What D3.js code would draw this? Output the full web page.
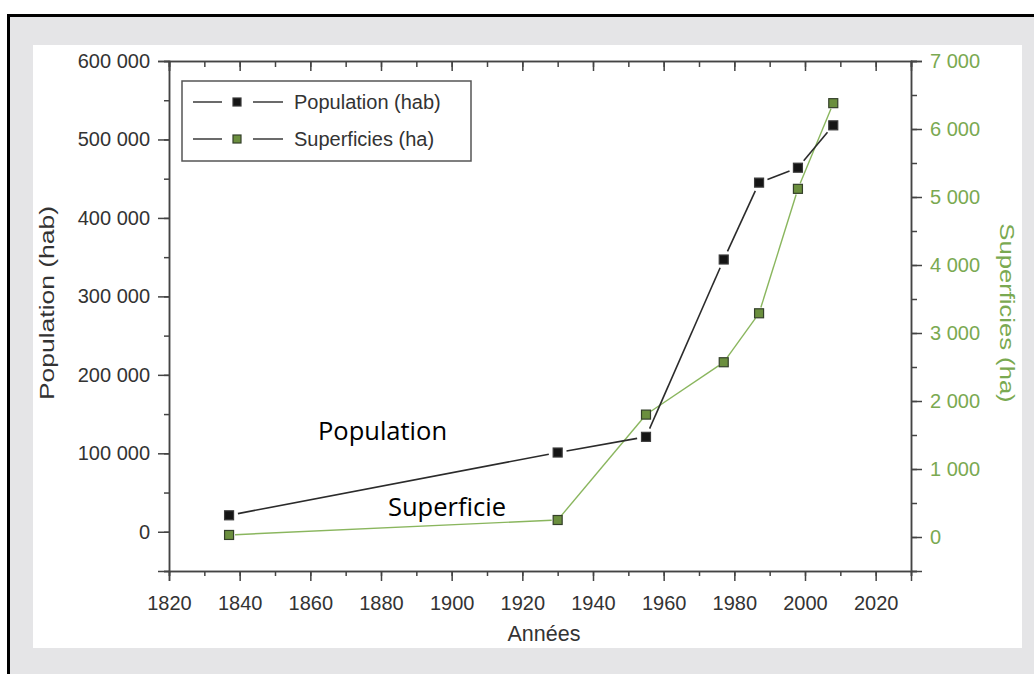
<!DOCTYPE html>
<html>
<head>
<meta charset="utf-8">
<script src="https://cdn.jsdelivr.net/npm/d3@7"></script>
<style>
  body { margin: 0; background: #fff; }
  svg { display: block; }
  svg text { font-family: "Liberation Sans", Arial, sans-serif; }
</style>
</head>
<body>
<div id="chart"></div>
<script>
// values
const years = [1837, 1930, 1955, 1977, 1987, 1998, 2008];
const population = [21000, 101000, 121000, 347000, 445000, 464000, 518000];
const superficie = [30, 250, 1800, 2570, 3290, 5120, 6380];

const xTicks = [1820, 1840, 1860, 1880, 1900, 1920, 1940, 1960, 1980, 2000, 2020];
const popTicks = [0, 100000, 200000, 300000, 400000, 500000, 600000];
const supTicks = [0, 1000, 2000, 3000, 4000, 5000, 6000, 7000];
const legendLabels = ["Population (hab)", "Superficies (ha)"];

const W = 1034, H = 674;
const plotLeft = 169, plotRight = 911, plotTop = 61, plotBottom = 571;
const axisCol = "#444", textCol = "#333", green = "#7aa951";

const fr = d3.formatLocale({ decimal: ",", thousands: " ", grouping: [3], currency: ["", " €"] });
const fmt = fr.format(",d");

const svg = d3.select("#chart").append("svg")
    .attr("width", W)
    .attr("height", H);

// frame + grey background + white panel
svg.append("rect").attr("x", 9).attr("y", 16).attr("width", W - 9).attr("height", H - 16).attr("fill", "#e5e5e7");
svg.append("rect").attr("x", 33).attr("y", 45).attr("width", 989).attr("height", 603).attr("fill", "#fff");
svg.append("line").attr("x1", 8).attr("x2", W).attr("y1", 15.5).attr("y2", 15.5).attr("stroke", "#000").attr("stroke-width", 3);
svg.append("line").attr("x1", 8.5).attr("x2", 8.5).attr("y1", 14).attr("y2", H).attr("stroke", "#000").attr("stroke-width", 3);

// scales
const x = d3.scaleLinear().domain([1820, 2030]).range([plotLeft, plotRight]);
const yL = d3.scaleLinear().domain([-50000, 600000]).range([plotBottom, plotTop]);
const yR = d3.scaleLinear().domain([-500, 7000]).range([plotBottom, plotTop]);

function styleAxis(g, labelCol) {
    g.attr("font-family", null);
    g.select(".domain").attr("stroke", axisCol).attr("stroke-width", 1.5);
    g.selectAll(".tick line").attr("stroke", axisCol).attr("stroke-width", 1.5);
    g.selectAll(".tick text")
        .attr("fill", labelCol || textCol)
        .style("font-family", "'Liberation Sans', Arial, sans-serif")
        .style("font-size", "20px");
}

const xMinor = d3.range(1820, 2031, 10);
const lMinor = d3.range(-50000, 600001, 50000);
const rMinor = d3.range(-500, 7001, 500);

// bottom axis
svg.append("g").attr("transform", `translate(0,${plotBottom})`)
    .call(d3.axisBottom(x).tickValues(xMinor).tickSize(5).tickFormat(""))
    .call(g => styleAxis(g));
svg.append("g").attr("transform", `translate(0,${plotBottom})`)
    .call(d3.axisBottom(x).tickValues(xTicks).tickSize(10).tickPadding(15).tickFormat(d3.format("d")))
    .call(g => styleAxis(g));

// top axis (ticks inward, no labels)
svg.append("g").attr("transform", `translate(0,${plotTop})`)
    .call(d3.axisBottom(x).tickValues(xMinor).tickSize(6).tickFormat(""))
    .call(g => styleAxis(g));
svg.append("g").attr("transform", `translate(0,${plotTop})`)
    .call(d3.axisBottom(x).tickValues(xTicks).tickSize(10).tickFormat(""))
    .call(g => styleAxis(g));

// left axis
svg.append("g").attr("transform", `translate(${plotLeft},0)`)
    .call(d3.axisLeft(yL).tickValues(lMinor).tickSize(5).tickFormat(""))
    .call(g => styleAxis(g));
svg.append("g").attr("transform", `translate(${plotLeft},0)`)
    .call(d3.axisLeft(yL).tickValues(popTicks).tickSize(11).tickPadding(8).tickFormat(fmt))
    .call(g => styleAxis(g));

// right axis
svg.append("g").attr("transform", `translate(${plotRight},0)`)
    .call(d3.axisRight(yR).tickValues(rMinor).tickSize(6).tickFormat(""))
    .call(g => styleAxis(g));
svg.append("g").attr("transform", `translate(${plotRight},0)`)
    .call(d3.axisRight(yR).tickValues(supTicks).tickSize(11).tickPadding(8).tickFormat(fmt))
    .call(g => styleAxis(g, green));

// axis titles
svg.append("text")
    .attr("transform", `translate(54,${(plotTop + plotBottom) / 2 - 13}) rotate(-90) scale(1.26,1)`)
    .attr("text-anchor", "middle")
    .attr("fill", textCol)
    .style("font-size", "21px")
    .text("Population (hab)");

svg.append("text")
    .attr("transform", `translate(1000,${(plotTop + plotBottom) / 2 - 3}) rotate(90) scale(1.22,1)`)
    .attr("text-anchor", "middle")
    .attr("fill", green)
    .style("font-size", "21px")
    .text("Superficies (ha)");

svg.append("text")
    .attr("x", 544)
    .attr("y", 641)
    .attr("text-anchor", "middle")
    .attr("fill", textCol)
    .style("font-size", "21.5px")
    .text("Années");

// lines with small gaps around the markers
function drawSeries(vals, yScale, col, width, gap) {
    const pts = years.map((yr, i) => [x(yr), yScale(vals[i])]);
    const segs = d3.pairs(pts);
    svg.append("g").selectAll("line")
        .data(segs)
        .enter()
        .append("line")
        .each(function (d) {
            const [a, b] = d;
            const dx = b[0] - a[0], dy = b[1] - a[1];
            const len = Math.sqrt(dx * dx + dy * dy);
            const ux = dx / len, uy = dy / len;
            d3.select(this)
                .attr("x1", a[0] + ux * gap).attr("y1", a[1] + uy * gap)
                .attr("x2", b[0] - ux * gap).attr("y2", b[1] - uy * gap);
        })
        .attr("stroke", col)
        .attr("stroke-width", width);
    return pts;
}

function drawMarkers(pts, fill, stroke) {
    svg.append("g").selectAll("rect")
        .data(pts)
        .enter()
        .append("rect")
        .attr("x", d => d[0] - 4.5)
        .attr("y", d => d[1] - 4.5)
        .attr("width", 9)
        .attr("height", 9)
        .attr("fill", fill)
        .attr("stroke", stroke)
        .attr("stroke-width", 1.2);
}

const supPts = drawSeries(superficie, yR, "#8ab65e", 1.4, 6);
const popPts = drawSeries(population, yL, "#2b2b2b", 1.6, 9);
drawMarkers(supPts, "#6b8f3e", "#34402a");
drawMarkers(popPts, "#151515", "#3a3a3a");

// legend
const lg = svg.append("g");
lg.append("rect")
    .attr("x", 182).attr("y", 81).attr("width", 289).attr("height", 80)
    .attr("fill", "#fff").attr("stroke", "#555").attr("stroke-width", 1.5);
const legendStyles = [
    { line: "#2b2b2b", fill: "#151515", stroke: "#3a3a3a" },
    { line: "#2b2b2b", fill: "#6b8f3e", stroke: "#34402a" }
];
legendLabels.forEach((lab, i) => {
    const cy = 102 + i * 37;
    const s = legendStyles[i];
    lg.append("line").attr("x1", 193).attr("x2", 222).attr("y1", cy).attr("y2", cy).attr("stroke", s.line).attr("stroke-width", 1.4);
    lg.append("line").attr("x1", 253).attr("x2", 283).attr("y1", cy).attr("y2", cy).attr("stroke", s.line).attr("stroke-width", 1.4);
    lg.append("rect").attr("x", 233).attr("y", cy - 4).attr("width", 8).attr("height", 8)
        .attr("fill", s.fill).attr("stroke", s.stroke).attr("stroke-width", 1.2);
    lg.append("text").attr("x", 294).attr("y", cy + 7)
        .attr("fill", textCol).style("font-size", "20px").text(lab);
});

// annotations
svg.append("text").attr("x", 318).attr("y", 440)
    .attr("fill", "#000").style("font-family", "'Open Sans', sans-serif").style("font-size", "25.5px")
    .text("Population");
svg.append("text").attr("x", 388).attr("y", 516)
    .attr("fill", "#000").style("font-family", "'Open Sans', sans-serif").style("font-size", "25.5px")
    .text("Superficie");
</script>
</body>
</html>
